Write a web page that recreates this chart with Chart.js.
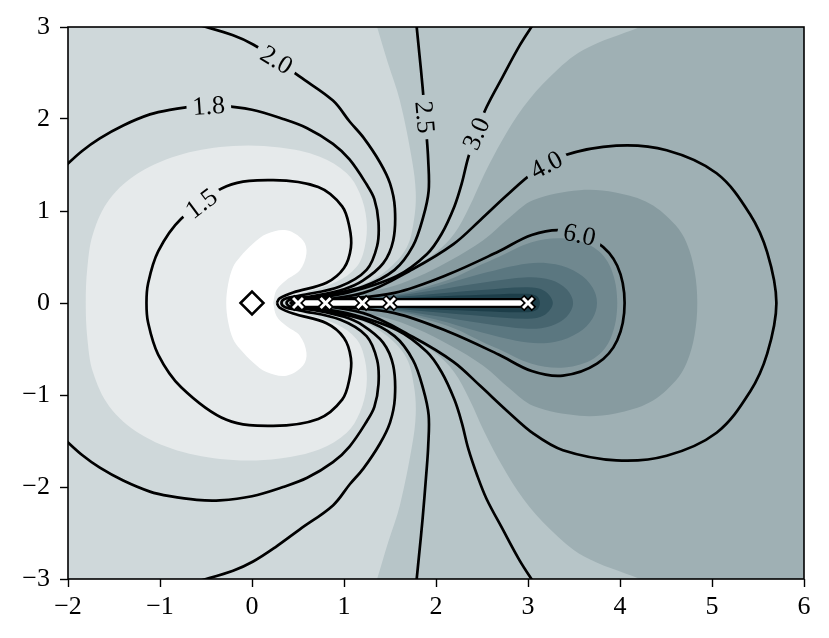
<!DOCTYPE html>
<html><head><meta charset="utf-8">
<script src="https://cdn.jsdelivr.net/npm/chart.js@4.4.1/dist/chart.umd.min.js"></script>
<style>html,body{margin:0;padding:0;background:#fff;}canvas{display:block;}</style>
</head><body>
<canvas id="c" width="829" height="638"></canvas>
<script>
// ---- axis ranges / ticks ----
const xRange = [-2, 6];
const yRange = [-3, 3];

// ---- contour lines (upper half; lower half is the mirror image) ----
const c15 = [[0.27,0],[0.30,0.05],[0.447,0.115],[0.81,0.22],[1.0,0.38],[1.075,0.6],[1.06,0.82],[0.98,1.05],[0.72,1.26],[0.23,1.335],[-0.277,1.27],[-0.77,0.915],[-1.02,0.56],[-1.13,0.21],[-1.147,0]];
const c18 = [[0.32,0],[0.36,0.045],[0.52,0.08],[0.955,0.18],[1.245,0.36],[1.36,0.62],[1.375,0.88],[1.33,1.13],[1.245,1.29],[1.06,1.56],[0.88,1.73],[0.6,1.9],[0.338,2.0],[0,2.1],[-0.35,2.145],[-0.6,2.14],[-0.894,2.1],[-1.11,2.05],[-1.4,1.93],[-1.654,1.79],[-1.85,1.65],[-2.05,1.47]];
const c20 = [[0.375,0],[0.42,0.04],[0.664,0.075],[1.0,0.15],[1.2,0.24],[1.425,0.43],[1.535,0.68],[1.553,1.03],[1.5,1.3],[1.39,1.53],[1.21,1.8],[1.063,1.97],[0.88,2.2],[0.52,2.46],[0.26,2.65],[0.012,2.81],[-0.206,2.91],[-0.6,3.03]];
const c25 = [[0.42,0],[0.74,0.075],[1.21,0.18],[1.55,0.36],[1.75,0.62],[1.86,0.93],[1.92,1.22],[1.915,1.56],[1.895,1.85],[1.854,2.35],[1.82,2.7],[1.785,3.05]];
const c30 = [[0.45,0],[1.03,0.11],[1.57,0.29],[1.9,0.53],[2.06,0.75],[2.2,1.05],[2.28,1.3],[2.35,1.58],[2.45,1.88],[2.55,2.13],[2.72,2.45],[2.91,2.8],[3.07,3.05]];
const c40 = [[0.47,0],[1.21,0.11],[1.75,0.37],[2.19,0.64],[2.48,0.9],[2.77,1.17],[3.06,1.42],[3.38,1.6],[3.96,1.71],[4.507,1.66],[5.05,1.41],[5.41,0.97],[5.6,0.55],[5.70,0]];
const c60 = [[0.5,0],[1.0,0.045],[1.55,0.11],[2.13,0.31],[2.68,0.56],[3.04,0.74],[3.38,0.79],[3.75,0.66],[3.97,0.405],[4.05,0]];

// ---- filled band boundaries (upper half) ----
const bandWhite = [[0.23,0],[0.266,0.14],[0.375,0.25],[0.52,0.355],[0.592,0.54],[0.555,0.68],[0.375,0.79],[0.157,0.75],[0.012,0.646],[-0.13,0.5],[-0.206,0.39],[-0.26,0.2],[-0.28,0]];
const bandPale = [[0.295,0],[0.33,0.05],[0.52,0.10],[0.918,0.23],[1.135,0.39],[1.226,0.61],[1.245,0.90],[1.172,1.19],[1.03,1.41],[0.737,1.59],[0.302,1.69],[-0.206,1.707],[-0.75,1.62],[-1.22,1.42],[-1.547,1.13],[-1.728,0.754],[-1.79,0.38],[-1.807,0]];
const band3 = [[0.4,0],[0.83,0.1],[1.2,0.2],[1.47,0.36],[1.68,0.6],[1.76,0.9],[1.78,1.2],[1.74,1.55],[1.607,2.2],[1.48,2.6],[1.36,3.0],[1.33,3.1]];
const band4 = [[0.43,0],[0.85,0.08],[1.4,0.2],[1.69,0.36],[2.0,0.55],[2.2,0.755],[2.36,1.04],[2.53,1.41],[2.72,1.77],[2.95,2.13],[3.24,2.46],[3.6,2.75],[4.217,3.0],[4.35,3.06]];
const band5 = [[0.45,0],[0.9,0.07],[1.45,0.16],[1.79,0.28],[2.15,0.46],[2.51,0.68],[2.80,0.93],[3.06,1.12],[3.56,1.225],[3.95,1.2],[4.325,1.08],[4.6,0.85],[4.725,0.65],[4.81,0.35],[4.84,0]];
const band6 = [[0.47,0],[1.0,0.04],[1.55,0.1],[2.13,0.25],[2.5,0.42],[2.68,0.5],[3.04,0.66],[3.4,0.7],[3.72,0.6],[3.9,0.38],[3.97,0]];
const band7 = [[0.48,0],[1.0,0.035],[1.5,0.08],[2.0,0.18],[2.5,0.32],[3.0,0.43],[3.3,0.42],[3.55,0.32],[3.7,0.17],[3.75,0]];
const band8 = [[0.49,0],[1.0,0.03],[1.5,0.07],[2.0,0.14],[2.5,0.22],[3.0,0.28],[3.25,0.25],[3.42,0.15],[3.49,0]];
const band9 = [[0.5,0],[1.5,0.06],[2.0,0.1],[2.5,0.14],[3.0,0.17],[3.18,0.13],[3.27,0]];
const band10 = [[0.5,0],[1.5,0.05],[2.5,0.09],[3.0,0.1],[3.1,0.07],[3.13,0]];

// ---- contour labels ----
const labelText = ['1.5','1.8','2.0','2.5','3.0','4.0','6.0'];
const labelX = [-0.55,-0.47,0.266,1.875,2.44,3.2,3.56];
const labelY = [1.08,2.14,2.64,2.02,1.84,1.5,0.74];
const labelAngle = [-37,-4,31,85,-66,-28,12];

// ---- markers ----
const slitX = [0.5,0.8,1.2,1.5,3.0];
const slitY = [0,0,0,0,0];
const sourceX = [0];
const sourceY = [0];

// ---- helpers ----
const P = a => a.map(p => ({x:p[0], y:p[1]}));
const mirrorLoop = u => u.concat(u.slice(0,-1).reverse().map(p => [p[0], -p[1]]));
const mirrorOpen = u => u.slice().reverse().map(p => [p[0], -p[1]]).concat(u.slice(1));
const openRegion = u => mirrorOpen(u).concat([[xRange[1]+1, yRange[1]+0.1],[xRange[1]+1, yRange[0]-0.1]]);

const FONT = "'Liberation Serif', serif";
const FS = 26;

function fillDs(pts, color){
  return {type:'line', data:P(pts), fill:'shape', backgroundColor:color, borderColor:'rgba(0,0,0,0)',
          borderWidth:0, showLine:false, pointRadius:0, pointHoverRadius:0, tension:0.35};
}
function lineDs(pts){
  return {type:'line', data:P(pts), fill:false, borderColor:'#000', borderWidth:2.7, pointRadius:0,
          pointHoverRadius:0, tension:0.35, isContour:true, borderJoinStyle:'round'};
}
const slitPts = () => slitX.map((x,i)=>({x, y:slitY[i]}));

const datasets = [
  fillDs(openRegion(band3), '#b7c5c8'),
  fillDs(openRegion(band4), '#9fb0b4'),
  fillDs(mirrorLoop(band5), '#879ba0'),
  fillDs(mirrorLoop(band6), '#70888f'),
  fillDs(mirrorLoop(band7), '#5b7780'),
  fillDs(mirrorLoop(band8), '#47656f'),
  fillDs(mirrorLoop(band9), '#31525d'),
  fillDs(mirrorLoop(band10), '#1d3e49'),
  fillDs(mirrorLoop(bandPale), '#e6eaeb'),
  fillDs(mirrorLoop(bandWhite), '#ffffff'),
  lineDs(mirrorLoop(c15)),
  lineDs(mirrorOpen(c18)),
  lineDs(mirrorOpen(c20)),
  lineDs(mirrorOpen(c25)),
  lineDs(mirrorOpen(c30)),
  lineDs(mirrorLoop(c40)),
  lineDs(mirrorLoop(c60)),
  {type:'line', data:slitPts(), borderColor:'#000', borderWidth:10, pointRadius:0, tension:0, fill:false, borderCapStyle:'round'},
  {type:'line', data:slitPts(), borderColor:'#fff', borderWidth:5.5, pointRadius:0, tension:0, fill:false},
  {type:'line', data:slitPts(), showLine:false, pointStyle:'crossRot', pointRadius:8.5, pointBorderColor:'#000', pointBorderWidth:6.5, fill:false},
  {type:'line', data:slitPts(), showLine:false, pointStyle:'crossRot', pointRadius:7, pointBorderColor:'#fff', pointBorderWidth:3, fill:false},
  {type:'line', data:sourceX.map((x,i)=>({x, y:sourceY[i]})), showLine:false, pointStyle:'rectRot', pointRadius:11.5, pointBackgroundColor:'#fff', pointBorderColor:'#000', pointBorderWidth:2.5, fill:false}
];
// draw in list order (first = bottom)
datasets.forEach((d,i) => { d.order = datasets.length - i; });

const bgPlugin = {
  id:'bg',
  beforeDatasetsDraw(chart){
    const {ctx, chartArea:a} = chart;
    ctx.save(); ctx.fillStyle = '#cfd8da';
    ctx.fillRect(a.left, a.top, a.right-a.left, a.bottom-a.top); ctx.restore();
  },
  afterDraw(chart){
    const {ctx, chartArea:a} = chart;
    ctx.save(); ctx.strokeStyle = '#000'; ctx.lineWidth = 1.6;
    ctx.strokeRect(a.left, a.top, a.right-a.left, a.bottom-a.top); ctx.restore();
  }
};

function labelBoxes(chart, ctx, cb){
  const xs = chart.scales.x, ys = chart.scales.y;
  ctx.font = FS + 'px ' + FONT;
  labelText.forEach((t,i) => {
    const cx = xs.getPixelForValue(labelX[i]), cy = ys.getPixelForValue(labelY[i]);
    cb(t, cx, cy, labelAngle[i]*Math.PI/180, ctx.measureText(t).width);
  });
}

const labelPlugin = {
  id:'clabels',
  beforeDatasetDraw(chart, args){
    const ds = chart.data.datasets[args.index];
    if (!ds.isContour) return;
    const ctx = chart.ctx, a = chart.chartArea;
    ctx.save();
    ctx.beginPath();
    ctx.rect(a.left-20, a.top-20, a.right-a.left+40, a.bottom-a.top+40);
    labelBoxes(chart, ctx, (t, cx, cy, th, w) => {
      const hw = w/2 + 6, hh = 12;
      const c = Math.cos(th), s = Math.sin(th);
      const pts = [[-hw,-hh],[hw,-hh],[hw,hh],[-hw,hh]].map(([u,v]) => [cx + u*c - v*s, cy + u*s + v*c]);
      ctx.moveTo(pts[0][0], pts[0][1]);
      for (let k=1;k<4;k++) ctx.lineTo(pts[k][0], pts[k][1]);
      ctx.closePath();
    });
    ctx.clip('evenodd');
  },
  afterDatasetDraw(chart, args){
    const ds = chart.data.datasets[args.index];
    if (ds.isContour) chart.ctx.restore();
  },
  afterDatasetsDraw(chart){
    const ctx = chart.ctx;
    ctx.save();
    ctx.fillStyle = '#000'; ctx.textAlign = 'center'; ctx.textBaseline = 'middle';
    labelBoxes(chart, ctx, (t, cx, cy, th) => {
      ctx.save(); ctx.translate(cx, cy); ctx.rotate(th); ctx.fillText(t, 0, 1); ctx.restore();
    });
    ctx.restore();
  }
};

const fmt = v => v < 0 ? '\u2212' + Math.abs(v) : String(v);

new Chart(document.getElementById('c'), {
  type:'line',
  data:{datasets},
  options:{
    responsive:false, animation:false, devicePixelRatio:1,
    layout:{padding:{left:0, right:25, top:27, bottom:0}},
    plugins:{legend:{display:false}, tooltip:{enabled:false}, filler:{drawTime:'beforeDatasetDraw', propagate:false}},
    events:[],
    scales:{
      x:{type:'linear', min:xRange[0], max:xRange[1],
         ticks:{stepSize:1, autoSkip:false, maxRotation:0, padding:5, color:'#000', font:{family:FONT, size:FS}, callback:fmt},
         grid:{drawOnChartArea:false, drawTicks:true, tickLength:8, tickColor:'#000', tickWidth:1.4},
         border:{display:false},
         afterFit(s){ s.height = 59; }},
      y:{type:'linear', min:yRange[0], max:yRange[1],
         ticks:{stepSize:1, autoSkip:false, padding:10, color:'#000', font:{family:FONT, size:FS}, callback:fmt},
         grid:{drawOnChartArea:false, drawTicks:true, tickLength:8, tickColor:'#000', tickWidth:1.4},
         border:{display:false},
         afterFit(s){ s.width = 68; }}
    }
  },
  plugins:[bgPlugin, labelPlugin]
});
</script>
</body></html>
